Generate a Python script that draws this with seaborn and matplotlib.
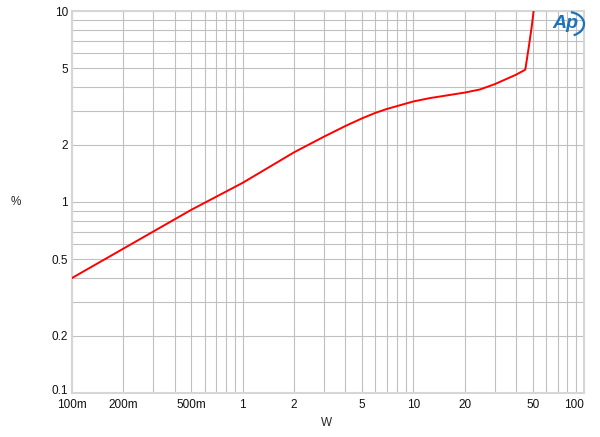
import matplotlib
matplotlib.use("Agg")
import matplotlib.pyplot as plt
import matplotlib.ticker as mticker
import matplotlib.transforms as mtransforms
from matplotlib.patches import Arc
import pandas as pd
import seaborn as sns

# THD+N (%) vs output power (W)
watts = [0.1, 0.2, 0.5, 1.0, 2.0, 3.0, 4.0, 5.0, 6.0, 7.0, 10.0, 12.5, 15.0, 20.0, 24.5, 30.0, 40.0, 45.3, 47.5, 49.5, 51.0]
thd = [0.40, 0.57, 0.91, 1.26, 1.82, 2.20, 2.50, 2.74, 2.93, 3.07, 3.36, 3.50, 3.59, 3.74, 3.88, 4.14, 4.64, 4.93, 6.5, 8.4, 10.5]

x_ticks = [0.1, 0.2, 0.5, 1, 2, 5, 10, 20, 50, 100]
x_labels = ["100m", "200m", "500m", "1", "2", "5", "10", "20", "50", "100"]
y_ticks = [0.1, 0.2, 0.5, 1, 2, 5, 10]
y_labels = ["0.1", "0.2", "0.5", "1", "2", "5", "10"]

df = pd.DataFrame({"W": watts, "pct": thd})

sns.set_style("white")
plt.rcParams["font.family"] = ["Liberation Sans", "DejaVu Sans"]

fig = plt.figure(figsize=(6.0, 4.37), dpi=100)
ax = fig.add_axes([72 / 600, 1 - 393 / 437, 512 / 600, 382 / 437])

sns.lineplot(data=df, x="W", y="pct", ax=ax, color="#ff0000", linewidth=1.4,
             estimator=None, sort=False, zorder=3)

ax.set_xscale("log")
ax.set_yscale("log")
ax.set_xlim(0.1, 100)
ax.set_ylim(0.1, 10)

ax.xaxis.set_major_locator(mticker.FixedLocator(x_ticks))
ax.xaxis.set_major_formatter(mticker.FixedFormatter(x_labels))
ax.yaxis.set_major_locator(mticker.FixedLocator(y_ticks))
ax.yaxis.set_major_formatter(mticker.FixedFormatter(y_labels))
ax.xaxis.set_minor_locator(mticker.LogLocator(base=10, subs=range(1, 10)))
ax.yaxis.set_minor_locator(mticker.LogLocator(base=10, subs=range(1, 10)))
ax.xaxis.set_minor_formatter(mticker.NullFormatter())
ax.yaxis.set_minor_formatter(mticker.NullFormatter())

ax.grid(which="both", color="#c0c0c0", linewidth=0.8)
ax.tick_params(which="both", length=0, labelsize=8.5, colors="#111111")
ax.tick_params(axis="x", pad=4)
ax.tick_params(axis="y", pad=3)
for lbl in ax.get_xticklabels():
    if lbl.get_text() == "100":
        lbl.set_horizontalalignment("right")
# nudge the bottom y label up a little so it clears "100m"
nudge = mtransforms.ScaledTranslation(0, 3 / 100, fig.dpi_scale_trans)
for lbl in ax.get_yticklabels():
    if lbl.get_text() == "0.1":
        lbl.set_transform(lbl.get_transform() + nudge)

for s in ax.spines.values():
    s.set_color("#d6d6d6")
    s.set_linewidth(1.5)

ax.set_xlabel("")
ax.set_ylabel("")
fig.text(327 / 600, 1 - 423 / 437, "W", ha="center", va="center", fontsize=8.5)
fig.text(16 / 600, 1 - 202 / 437, "%", ha="center", va="center", fontsize=8.5)

# Ap logo
fig.text(565 / 600, 1 - 24 / 437, "Ap", ha="center", va="center", fontsize=14,
         fontweight="bold", fontstyle="italic", color="#1d72b8")
fig.add_artist(Arc((568 / 600, 1 - 24 / 437), 32 / 600, 24 / 437, theta1=-70, theta2=80,
                   transform=fig.transFigure, color="#1d72b8", linewidth=1.6))

fig.savefig("out.png", dpi=100)
